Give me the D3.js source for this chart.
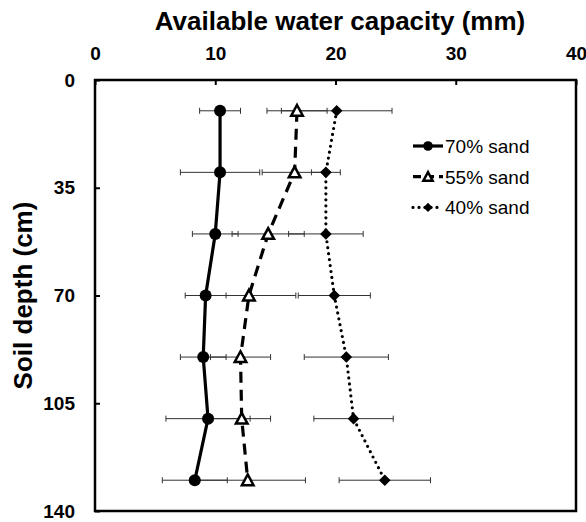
<!DOCTYPE html>
<html>
<head>
<meta charset="utf-8">
<script src="https://cdn.jsdelivr.net/npm/d3@7"></script>
<style>
  body { margin: 0; background: #fff; }
  svg { font-family: "Liberation Sans", Arial, sans-serif; }
</style>
</head>
<body>
<div id="chart"></div>
<script>
// depth of each sample (cm)
var depths = [10, 30, 50, 70, 90, 110, 130];

var sand70 = [10.4, 10.4, 10.0, 9.2, 9.0, 9.4, 8.3];
var sand70Err = [1.7, 3.3, 1.9, 1.7, 1.9, 3.5, 2.7];
var sand55 = [16.8, 16.6, 14.4, 12.8, 12.1, 12.2, 12.7];
var sand55Err = [2.5, 2.7, 3.0, 3.9, 2.5, 2.4, 4.8];
var sand40 = [20.1, 19.2, 19.2, 19.9, 20.9, 21.5, 24.1];
var sand40Err = [4.6, 1.2, 3.1, 3.0, 3.5, 3.3, 3.8];

var seriesNames = ["70% sand", "55% sand", "40% sand"];
var xTicks = [0, 10, 20, 30, 40];
var yTicks = [0, 35, 70, 105, 140];

var width = 586, height = 522;
var margin = {top: 80, left: 95, right: 10, bottom: 11};
var w = width - margin.left - margin.right;
var h = height - margin.top - margin.bottom;

var svg = d3.select("#chart").append("svg")
  .attr("width", width)
  .attr("height", height);

var x = d3.scaleLinear().domain([0, 40]).range([0, w]);
var y = d3.scaleLinear().domain([0, 140]).range([0, h]);

var g = svg.append("g")
  .attr("transform", "translate(" + margin.left + "," + margin.top + ")");

// axes (ticks point inward)
var xAxis = g.append("g")
  .call(d3.axisTop(x).tickValues(xTicks).tickSizeInner(-5).tickSizeOuter(0).tickPadding(20));
var yAxis = g.append("g")
  .call(d3.axisLeft(y).tickValues(yTicks).tickSizeInner(-5).tickSizeOuter(0).tickPadding(20));

[xAxis, yAxis].forEach(function(a) {
  a.select(".domain").remove();
  a.selectAll(".tick line").attr("stroke", "#000").attr("stroke-width", 2);
  a.selectAll(".tick text")
    .attr("fill", "#000")
    .style("font-size", "19px")
    .style("font-weight", "bold");
});
xAxis.selectAll(".tick text").attr("y", -20);
yAxis.selectAll(".tick text").attr("x", -20);

// frame
g.append("rect")
  .attr("width", w).attr("height", h)
  .attr("fill", "none")
  .attr("stroke", "#000")
  .attr("stroke-width", 2.5);

// titles
svg.append("text")
  .attr("x", 340).attr("y", 30)
  .attr("text-anchor", "middle")
  .style("font-size", "26px").style("font-weight", "bold")
  .text("Available water capacity (mm)");

svg.append("text")
  .attr("transform", "translate(32," + (margin.top + h / 2) + ") rotate(-90)")
  .attr("text-anchor", "middle")
  .style("font-size", "26px").style("font-weight", "bold")
  .text("Soil depth (cm)");

var series = [
  {name: seriesNames[0], vals: sand70, err: sand70Err, dash: null, cap: "butt", marker: "circle"},
  {name: seriesNames[1], vals: sand55, err: sand55Err, dash: "11,7", cap: "butt", marker: "triangle"},
  {name: seriesNames[2], vals: sand40, err: sand40Err, dash: "0,6", cap: "round", marker: "diamond"}
];

// error bars
series.forEach(function(s) {
  var eg = g.append("g").attr("stroke", "#333").attr("stroke-width", 1);
  depths.forEach(function(d, i) {
    var lo = x(s.vals[i] - s.err[i]), hi = x(s.vals[i] + s.err[i]), yy = y(d);
    eg.append("line").attr("x1", lo).attr("x2", hi).attr("y1", yy).attr("y2", yy);
    eg.append("line").attr("x1", lo).attr("x2", lo).attr("y1", yy - 3).attr("y2", yy + 3);
    eg.append("line").attr("x1", hi).attr("x2", hi).attr("y1", yy - 3).attr("y2", yy + 3);
  });
});

var line = d3.line()
  .x(function(d) { return x(d[0]); })
  .y(function(d) { return y(d[1]); });

function drawMarker(sel, type, cx, cy, scale) {
  scale = scale || 1;
  if (type == "circle") {
    sel.append("circle").attr("cx", cx).attr("cy", cy).attr("r", 6 * scale).attr("fill", "#000");
  } else if (type == "triangle") {
    var s = 5.8 * scale;
    sel.append("path")
      .attr("d", "M" + cx + "," + (cy - s) + "L" + (cx + s) + "," + (cy + s * 0.85) + "L" + (cx - s) + "," + (cy + s * 0.85) + "Z")
      .attr("fill", "#fff").attr("stroke", "#000").attr("stroke-width", 2.5);
  } else {
    var s2 = 5.8 * scale;
    sel.append("path")
      .attr("d", "M" + cx + "," + (cy - s2) + "L" + (cx + s2) + "," + cy + "L" + cx + "," + (cy + s2) + "L" + (cx - s2) + "," + cy + "Z")
      .attr("fill", "#000");
  }
}

series.forEach(function(s) {
  var pts = depths.map(function(d, i) { return [s.vals[i], d]; });
  g.append("path")
    .datum(pts)
    .attr("d", line)
    .attr("fill", "none")
    .attr("stroke", "#000")
    .attr("stroke-width", 3.2)
    .attr("stroke-linecap", s.cap)
    .attr("stroke-dasharray", s.dash);
  var mg = g.append("g");
  pts.forEach(function(p) { drawMarker(mg, s.marker, x(p[0]), y(p[1])); });
});

// legend
var legend = svg.append("g").attr("transform", "translate(413,146)");
series.forEach(function(s, i) {
  var row = legend.append("g").attr("transform", "translate(0," + (i * 30.7) + ")");
  row.append("line")
    .attr("x1", 0).attr("x2", 30).attr("y1", 0).attr("y2", 0)
    .attr("stroke", "#000").attr("stroke-width", 3.2)
    .attr("stroke-linecap", s.cap)
    .attr("stroke-dasharray", s.dash == "11,7" ? "8,5" : s.dash);
  drawMarker(row, s.marker, 15, 0, 0.8);
  row.append("text")
    .attr("x", 32).attr("y", 7)
    .style("font-size", "19px")
    .text(s.name);
});
</script>
</body>
</html>
